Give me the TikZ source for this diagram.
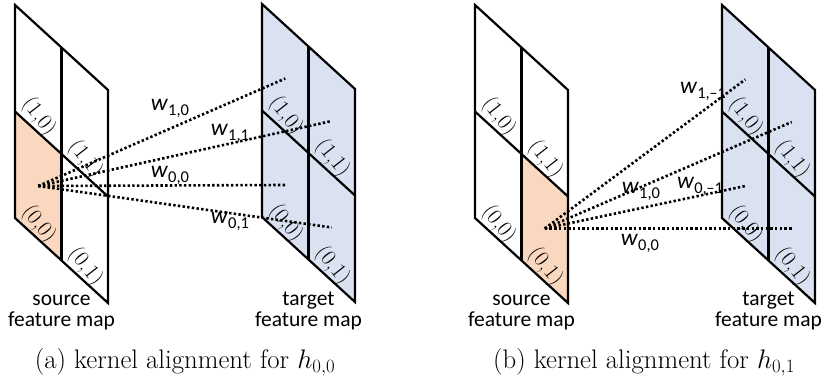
\documentclass[tikz,border=0pt]{standalone}
\usepackage{fix-cm}
\usepackage{fontspec}
\newfontfamily\calfont{Carlito}
\definecolor{srcfill}{RGB}{250,216,192}
\definecolor{tgtfill}{RGB}{218,225,241}
\tikzset{
  mapline/.style={line width=2.2pt, line join=miter},
  kline/.style={line width=2.6pt, dash pattern=on 2.4pt off 2.3pt},
  cellnum/.style={font=\fontsize{22}{22}\selectfont, rotate=-52, inner sep=0pt},
  wlab/.style={font=\calfont\fontsize{23.5}{23.5}\selectfont, inner sep=0pt},
  maplab/.style={font=\calfont\fontsize{21.5}{21}\selectfont, align=center, inner sep=0pt, anchor=base},
  captext/.style={font=\fontsize{26.8}{26.8}\selectfont, inner sep=0pt, anchor=base},
}
\newcommand{\wl}[1]{\textit{w}\raisebox{-5pt}{\fontsize{16.5}{16.5}\selectfont #1}}
% #1 name, #2 left x, #3 top y, #4 fill, #5 extra fill code
\newcommand{\featmap}[5]{%
  \begin{scope}[shift={(#2,#3)}, x={(46.5pt,-42.5pt)}, y={(0pt,-106.5pt)}]
    \fill[#4] (0,0) -- (2,0) -- (2,2) -- (0,2) -- cycle;
    #5
    \draw[mapline] (0,0) -- (2,0) -- (2,2) -- (0,2) -- cycle;
    \draw[mapline] (1,0) -- (1,2);
    \draw[mapline] (0,1) -- (2,1);
    \coordinate (#1-10) at (0.5,0.5);
    \coordinate (#1-11) at (1.5,0.5);
    \coordinate (#1-00) at (0.5,1.5);
    \coordinate (#1-01) at (1.5,1.5);
    \node[cellnum] (#1-l10) at (0.52,0.84) {(1,0)};
    \node[cellnum] (#1-l11) at (1.52,0.84) {(1,1)};
    \node[cellnum] (#1-l00) at (0.52,1.85) {(0,0)};
    \node[cellnum] (#1-l01) at (1.52,1.85) {(0,1)};
  \end{scope}}
\begin{document}
\begin{tikzpicture}[x=1pt, y=-1pt]
\useasboundingbox (0,0) rectangle (827,382);
% ---------- panel (a)
\featmap{sa}{15}{5}{white}{\fill[srcfill] (0,1) -- (1,1) -- (1,2) -- (0,2) -- cycle;}
\featmap{ta}{262}{4}{tgtfill}{}
\draw[kline] (sa-00) -- (ta-10);
\draw[kline] (sa-00) -- (ta-11);
\draw[kline] (sa-00) -- (ta-00);
\draw[kline] (sa-00) -- (ta-01);
\node[wlab] (wa10) at (170,108) {\wl{1,0}};
\node[wlab] (wa11) at (230,133) {\wl{1,1}};
\node[wlab] (wa00) at (170,175) {\wl{0,0}};
\node[wlab] (wa01) at (230,221) {\wl{0,1}};
\node[maplab] (srca) at (61.5,326) {source\\feature map};
\node[maplab] (tgta) at (308.5,326) {target\\feature map};
\node[captext] (capa) at (185,368) {(a) kernel alignment for $h_{0,0}$};
% ---------- panel (b)
\featmap{sb}{475}{5}{white}{\fill[srcfill] (1,1) -- (2,1) -- (2,2) -- (1,2) -- cycle;}
\featmap{tb}{722}{5}{tgtfill}{}
\draw[kline] (sb-01) -- (tb-10);
\draw[kline] (sb-01) -- (tb-11);
\draw[kline] (sb-01) -- (tb-00);
\draw[kline] (sb-01) -- (tb-01);
\node[wlab] (wb1m) at (703,91) {\wl{1,–1}};
\node[wlab] (wb10) at (641,191) {\wl{1,0}};
\node[wlab] (wb0m) at (700,186) {\wl{0,–1}};
\node[wlab] (wb00) at (640,243) {\wl{0,0}};
\node[maplab] (srcb) at (521.5,326) {source\\feature map};
\node[maplab] (tgtb) at (768.5,326) {target\\feature map};
\node[captext] (capb) at (644,368) {(b) kernel alignment for $h_{0,1}$};
\end{tikzpicture}
\end{document}
